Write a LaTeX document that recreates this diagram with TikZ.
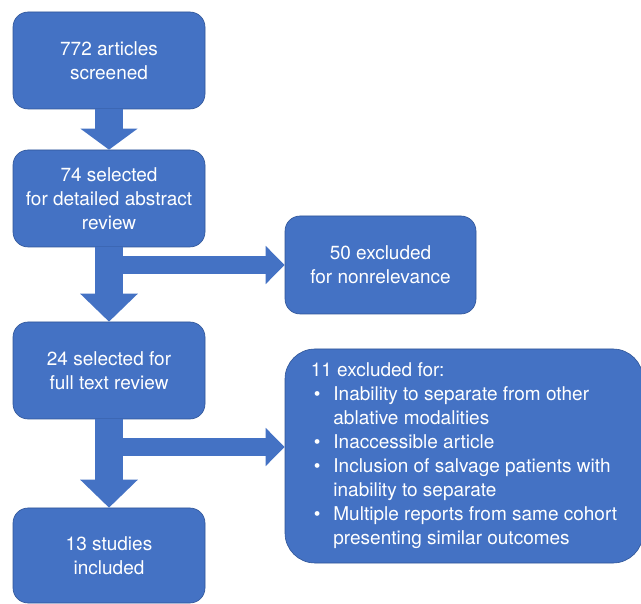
\documentclass[tikz,border=0pt]{standalone}
\usepackage{fontspec}
\setmainfont{TeX Gyre Heros}
\usepackage{tikz}
\usetikzlibrary{arrows.meta}

\definecolor{boxblue}{HTML}{4472C4}
\definecolor{edgeblue}{HTML}{2F5597}

\begin{document}
\begin{tikzpicture}[x=1pt, y=-1pt,
    box/.style={draw=edgeblue, line width=0.6pt, fill=boxblue, text=white,
      rounded corners=15pt, minimum width=192pt, minimum height=97pt,
      inner sep=0pt, align=center, font=\fontsize{19}{24}\selectfont},
    downarrow/.style={draw=boxblue, line width=28pt, -{Triangle[width=56pt, length=#1]}},
    downarrow/.default=28pt,
    sidearrow/.style={draw=boxblue, line width=18pt, -{Triangle[width=37pt, length=19pt]}}]
        \useasboundingbox (0,0) rectangle (641,604);

        % left column
        \node [box] (screened)    at (109,60.5)  {772 articles\\screened};
        \node [box] (abstractrev) at (109,198.5) {74 selected\\for detailed abstract\\review};
        \node [box] (fulltext)    at (109,370.5) {24 selected for\\full text review};
        \node [box, minimum height=95pt] (included) at (109,555.5) {13 studies\\included};

        % right column
        \node [box, minimum width=191pt, minimum height=98pt] (nonrel) at (380.5,265) {50 excluded\\for nonrelevance};
        \node [box, minimum width=358pt, minimum height=214pt, rounded corners=30pt, align=left] (excluded) at (464,456) {%
          \begin{tabular}{@{\hspace{3pt}}l@{\hspace{13pt}}l@{}}
            \multicolumn{2}{@{}l@{}}{11 excluded for:}\\
            \textbullet & Inability to separate from other\\
                        & ablative modalities\\
            \textbullet & Inaccessible article\\
            \textbullet & Inclusion of salvage patients with\\
                        & inability to separate\\
            \textbullet & Multiple reports from same cohort\\
                        & presenting similar outcomes
          \end{tabular}};

        \coordinate (split1) at (110,265);
        \coordinate (split2) at (110,447);

        \draw [downarrow=21pt] (screened.south)    -- (abstractrev.north);
        \draw [downarrow]      (abstractrev.south) -- (fulltext.north);
        \draw [downarrow]      (fulltext.south)    -- (included.north);

        \draw [sidearrow] (split1) -- (split1 -| nonrel.west);
        \draw [sidearrow] (split2) -- (split2 -| excluded.west);
      \end{tikzpicture}
\end{document}
